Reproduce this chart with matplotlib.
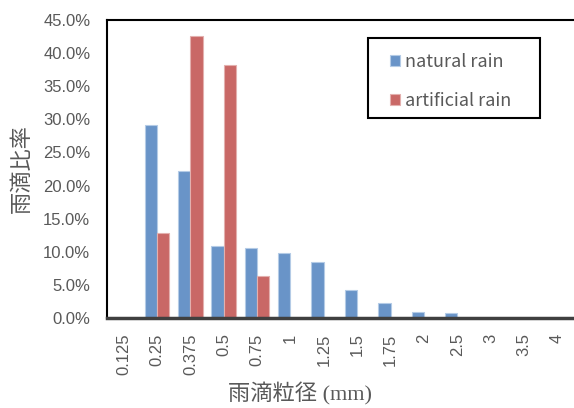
import numpy as np
import matplotlib
matplotlib.use("Agg")
import matplotlib.pyplot as plt
from matplotlib.patches import Rectangle
from matplotlib.ticker import FuncFormatter

plt.rcParams['font.family'] = ['Noto Sans CJK JP', 'DejaVu Sans']

sizes = ["0.125", "0.25", "0.375", "0.5", "0.75", "1", "1.25", "1.5",
         "1.75", "2", "2.5", "3", "3.5", "4"]
natural = [0.0, 29.2, 22.2, 10.9, 10.5, 9.8, 8.5, 4.3, 2.3, 0.9, 0.7, 0.0, 0.0, 0.0]
artificial = [0.0, 12.8, 42.6, 38.2, 6.4, 0.0, 0.0, 0.0, 0.0, 0.0, 0.0, 0.0, 0.0, 0.0]

BLUE = "#6994C8"
RED = "#C96866"
GREY = "#595959"

fig = plt.figure(figsize=(5.74, 4.08), dpi=100)
ax = fig.add_axes([0.1864, 0.2206, 0.8136, 0.7304])

x = np.arange(len(sizes))
w = 0.37
ax.bar(x - w / 2, natural, w, color=BLUE, edgecolor="#B4CBE6", linewidth=0.8,
       label="natural rain")
ax.bar(x + w / 2, artificial, w, color=RED, edgecolor="#E3B0AE", linewidth=0.8,
       label="artificial rain")

ax.set_xlim(-0.5, len(sizes) - 0.5)
ax.set_ylim(0, 45)
ax.set_yticks(np.arange(0, 46, 5))
ax.yaxis.set_major_formatter(FuncFormatter(lambda v, _: f"{v:.1f}%"))
ax.set_xticks(x)
ax.set_xticklabels(sizes, rotation=90)
for lbl in ax.get_xticklabels() + ax.get_yticklabels():
    lbl.set_family(["Liberation Sans", "DejaVu Sans"])
ax.tick_params(axis="both", length=0, labelsize=12, colors=GREY)
ax.tick_params(axis="y", pad=12)
ax.tick_params(axis="x", pad=11)

ax.spines["right"].set_visible(False)
ax.spines["left"].set_color("black")
ax.spines["left"].set_linewidth(1.5)
ax.spines["top"].set_color("black")
ax.spines["top"].set_linewidth(1.5)
ax.spines["bottom"].set_color("#404040")
ax.spines["bottom"].set_linewidth(2.5)

ax.set_ylabel("雨滴比率", fontsize=16, color=GREY)
ax.yaxis.set_label_coords(-0.158, 0.5)
ax.set_xlabel("雨滴粒径 (mm)", fontsize=16, color=GREY,
              family=["Liberation Serif", "Noto Sans CJK JP"])
ax.xaxis.set_label_coords(0.413, -0.215)

# legend box
ax.add_patch(Rectangle((0.559, 0.671), 0.368, 0.269, transform=ax.transAxes,
                       facecolor="white", edgecolor="black", linewidth=1.5,
                       zorder=5))
leg = ax.legend(loc="upper left", bbox_to_anchor=(0.607, 0.89), fontsize=13,
                frameon=False, handlelength=0.55, handleheight=0.55,
                handletextpad=0.25, labelspacing=1.15, borderpad=0,
                borderaxespad=0)
leg.set_zorder(6)
for t in leg.get_texts():
    t.set_color(GREY)

fig.savefig("out.png", dpi=100)
